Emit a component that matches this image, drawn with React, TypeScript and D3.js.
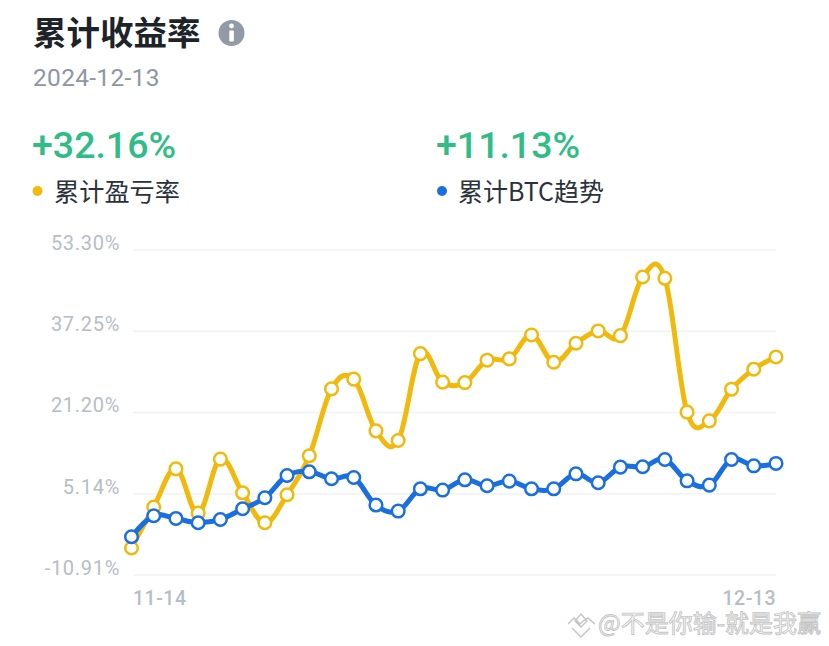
import React from "react";
import * as d3 from "d3";

const dates = ["11-14","11-15","11-16","11-17","11-18","11-19","11-20","11-21","11-22","11-23","11-24","11-25","11-26","11-27","11-28","11-29","11-30","12-01","12-02","12-03","12-04","12-05","12-06","12-07","12-08","12-09","12-10","12-11","12-12","12-13"];
const pnlValues = [-5.58,2.51,10.07,1.33,11.99,5.33,-0.59,4.94,12.64,25.86,27.78,17.57,15.66,32.83,27.19,27.11,31.53,31.78,36.52,31.13,34.88,37.31,36.38,47.97,47.71,21.26,19.55,25.8,29.75,32.16];
const btcValues = [-3.35,0.8,0.26,-0.59,0.06,2.18,4.35,8.75,9.48,8.1,8.35,2.91,1.72,6.12,5.87,7.9,6.72,7.64,6.12,6.12,9.08,7.31,10.41,10.47,11.91,7.7,6.85,11.91,10.66,11.13];
const yTicks = [53.30,37.25,21.20,5.14,-10.91];
const yTickLabels = ["53.30%","37.25%","21.20%","5.14%","-10.91%"];
const xTickLabels = ["11-14","12-13"];

const CJK = '"Noto Sans CJK SC", sans-serif';
const NUM = 'Roboto, "Noto Sans CJK SC", sans-serif';
const YELLOW = "#f0b90b";
const BLUE = "#1a6fe0";
const GREEN = "#2ebd85";

const x = d3.scalePoint<string>().domain(dates).range([131.5, 776]);
const y = d3.scaleLinear().domain([-10.91, 53.3]).range([575, 250]);
const line = d3.line<number>()
  .x((_, i) => x(dates[i]) as number)
  .y((d) => y(d))
  .curve(d3.curveCardinal.tension(-0.1));

function Series({ values, color }: { values: number[]; color: string }) {
  return (
    <g>
      <path d={line(values) as string} fill="none" stroke={color} strokeWidth={5} strokeLinejoin="round" strokeLinecap="round" />
      {values.map((v, i) => (
        <circle key={i} cx={x(dates[i])} cy={y(v)} r={6.3} fill="#fff" stroke={color} strokeWidth={2.5} />
      ))}
    </g>
  );
}

export default function App() {
  return (
    <svg width={829} height={646} viewBox="0 0 829 646" style={{ position: "absolute", left: 0, top: 0, background: "#fff" }}>
      <text x={33} y={45} fontFamily={CJK} fontSize={33.5} fontWeight={700} fill="#1e2329">累计收益率</text>
      <circle cx={231.5} cy={33} r={13} fill="#929aa5" />
      <circle cx={231.5} cy={26} r={2.4} fill="#fff" />
      <rect x={229.3} y={30.5} width={4.6} height={11} rx={1} fill="#fff" />
      <text x={33} y={86} fontFamily={NUM} fontSize={24.5} fill="#8f96a3" letterSpacing={0.3}>2024-12-13</text>

      <text x={32} y={158} fontFamily={NUM} fontSize={37.5} fontWeight={500} fill={GREEN}>+32.16%</text>
      <text x={436} y={158} fontFamily={NUM} fontSize={37.5} fontWeight={500} fill={GREEN}>+11.13%</text>

      <circle cx={37.5} cy={191} r={5} fill={YELLOW} />
      <text x={54} y={201} fontFamily={CJK} fontSize={25.2} fill="#2b3139">累计盈亏率</text>
      <circle cx={442} cy={191} r={5} fill={BLUE} />
      <text x={458} y={201} fontFamily={CJK} fontSize={25} fill="#2b3139">累计BTC趋势</text>

      {yTicks.map((t, i) => (
        <g key={t}>
          <line x1={133} x2={776} y1={y(t)} y2={y(t)} stroke="#f1f2f4" strokeWidth={1.6} />
          <text x={120} y={y(t)} textAnchor="end" fontFamily={NUM} fontSize={20} fill="#b7bdc6" letterSpacing={0.7}>{yTickLabels[i]}</text>
        </g>
      ))}
      <text x={133} y={605} fontFamily={NUM} fontSize={19.5} fontWeight={500} fill="#b7bdc6" letterSpacing={0.5}>{xTickLabels[0]}</text>
      <text x={776} y={605} textAnchor="end" fontFamily={NUM} fontSize={19.5} fontWeight={500} fill="#b7bdc6" letterSpacing={0.5}>{xTickLabels[1]}</text>

      <Series values={pnlValues} color={YELLOW} />
      <Series values={btcValues} color={BLUE} />

      <g fill="none" stroke="#c4c4c4" strokeWidth={1.4}>
        <path d="M568 624 L574 618 L580 624 L582 622 L588 618 L595 624 M572 628 L581 637 L590 628 M581 614 L587 621 L581 627 L575 621 Z" />
      </g>
      <text x={598} y={632} fontFamily={CJK} fontSize={24} fill="#fff" stroke="#c4c4c4" strokeWidth={0.9}>@不是你输-就是我赢</text>
    </svg>
  );
}
